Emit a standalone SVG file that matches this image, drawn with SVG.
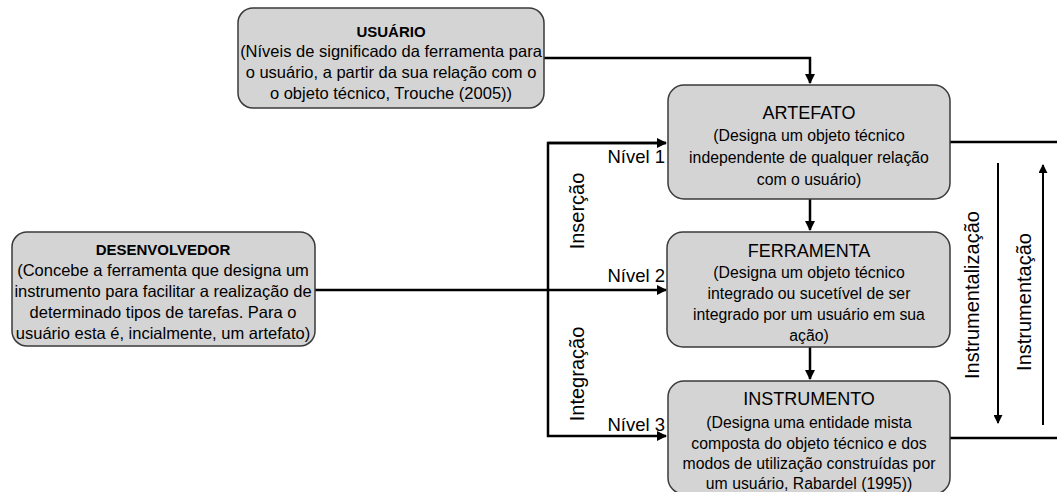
<svg xmlns="http://www.w3.org/2000/svg" width="1057" height="492" viewBox="0 0 1057 492">
<style>
.box{fill:#d4d4d4;stroke:#3a3a3a;stroke-width:1.5}
.t{font-family:"Liberation Sans",Arial,sans-serif;font-size:15.8px;fill:#000;text-anchor:middle}
.l{font-size:16.5px}
.tb{font-weight:bold;font-size:15px}
.h{font-size:18px}
.lbl{font-family:"Liberation Sans",Arial,sans-serif;font-size:18.5px;fill:#000}
.rot{font-size:20px;text-anchor:middle}
.c{fill:none;stroke:#000;stroke-width:2.5}
.c2{fill:none;stroke:#000;stroke-width:2}
</style>
<defs>
<marker id="ah" viewBox="0 0 10 10" refX="9" refY="5" markerWidth="4" markerHeight="4" orient="auto" markerUnits="strokeWidth">
<path d="M0,0 L10,5 L0,10 z" fill="#000"/>
</marker>
<marker id="ah2" viewBox="0 0 10 10" refX="9" refY="5" markerWidth="4.5" markerHeight="4.5" orient="auto" markerUnits="strokeWidth">
<path d="M0,0 L10,5 L0,10 z" fill="#000"/>
</marker>
</defs>

<g id="connectors">
<path class="c" d="M544,58 H810 V83" marker-end="url(#ah)"/>
<path class="c" d="M810,199 V230" marker-end="url(#ah)"/>
<path class="c" d="M810,347 V379" marker-end="url(#ah)"/>
<path class="c" d="M666,143 H548 V436 H666" marker-end="url(#ah)"/>
<path class="c" d="M548,143 H666" marker-end="url(#ah)"/>
<path class="c" d="M315,290 H666" marker-end="url(#ah)"/>
<path class="c" d="M950,142 H1057"/>
<path class="c" d="M950,438 H1057"/>
<path class="c2" d="M998,163 V423" marker-end="url(#ah2)"/>
<path class="c2" d="M1043,425 V165" marker-end="url(#ah2)"/>
<text class="lbl" x="665" y="163" text-anchor="end">Nível 1</text>
<text class="lbl" x="665" y="282" text-anchor="end">Nível 2</text>
<text class="lbl" x="665" y="431" text-anchor="end">Nível 3</text>
<text class="lbl rot" transform="translate(584,211) rotate(-90)">Inserção</text>
<text class="lbl rot" transform="translate(584,374) rotate(-90)">Integração</text>
<text class="lbl rot" transform="translate(979,295) rotate(-90)">Instrumentalização</text>
<text class="lbl rot" transform="translate(1031,302) rotate(-90)">Instrumentação</text>
</g>

<g id="usuario">
<rect class="box" x="238" y="8" width="306" height="100" rx="15"/>
<text class="t tb" x="391" y="37">USUÁRIO</text>
<text class="t l" x="391" y="57">(Níveis de significado da ferramenta para</text>
<text class="t l" x="391" y="78">o usuário, a partir da sua relação com o</text>
<text class="t l" x="391" y="99">o objeto técnico, Trouche (2005))</text>
</g>

<g id="desenvolvedor">
<rect class="box" x="12" y="232" width="303" height="114" rx="15"/>
<text class="t tb" x="163" y="255">DESENVOLVEDOR</text>
<text class="t l" x="163" y="276">(Concebe a ferramenta que designa um</text>
<text class="t l" x="163" y="297">instrumento para facilitar a realização de</text>
<text class="t l" x="163" y="318">determinado tipos de tarefas. Para o</text>
<text class="t l" x="163" y="339">usuário esta é, incialmente, um artefato)</text>
</g>

<g id="artefato">
<rect class="box" x="668" y="85" width="282" height="114" rx="16"/>
<text class="t h" x="809" y="119">ARTEFATO</text>
<text class="t" x="809" y="141">(Designa um objeto técnico</text>
<text class="t" x="809" y="163">independente de qualquer relação</text>
<text class="t" x="809" y="185">com o usuário)</text>
</g>

<g id="ferramenta">
<rect class="box" x="667" y="232" width="283" height="115" rx="16"/>
<text class="t h" x="809" y="257">FERRAMENTA</text>
<text class="t" x="809" y="278">(Designa um objeto técnico</text>
<text class="t" x="809" y="299">integrado ou sucetível de ser</text>
<text class="t" x="809" y="320">integrado por um usuário em sua</text>
<text class="t" x="809" y="341">ação)</text>
</g>

<g id="instrumento">
<rect class="box" x="668" y="381" width="282" height="113" rx="16"/>
<text class="t h" x="809" y="405">INSTRUMENTO</text>
<text class="t" x="809" y="428">(Designa uma entidade mista</text>
<text class="t" x="809" y="449">composta do objeto técnico e dos</text>
<text class="t" x="809" y="469">modos de utilização construídas por</text>
<text class="t" x="809" y="489">um usuário, Rabardel (1995))</text>
</g>
</svg>
